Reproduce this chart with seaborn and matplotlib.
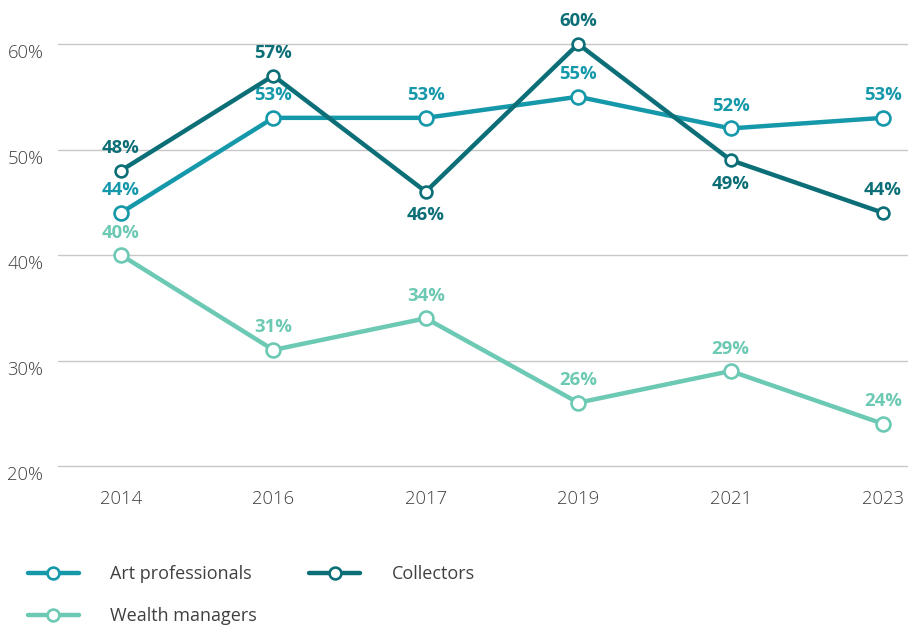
import matplotlib.pyplot as plt
import seaborn as sns
import pandas as pd
import numpy as np

# Data
years = ["2014", "2016", "2017", "2019", "2021", "2023"]
art_professionals = [44, 53, 53, 55, 52, 53]
collectors = [48, 57, 46, 60, 49, 44]
wealth_managers = [40, 31, 34, 26, 29, 24]
y_ticks = [20, 30, 40, 50, 60]

# label below the point for these (series, year index)
below = {("Collectors", 2), ("Collectors", 4)}

colors = {
    "Art professionals": "#1598aa",
    "Collectors": "#0c6f77",
    "Wealth managers": "#6cc9b3",
}
marker_sizes = {"Art professionals": 10, "Collectors": 8.5, "Wealth managers": 10}
text_grey = "#404040"

sns.set_theme(style="white")
plt.rcParams["font.family"] = ["Open Sans", "DejaVu Sans"]

fig = plt.figure(figsize=(9.08, 6.25), dpi=100)
ax = fig.add_axes([58 / 908, 1 - 466 / 625, 850 / 908, (466 - 44) / 625])

x = np.arange(len(years))
series = [
    ("Wealth managers", wealth_managers),
    ("Art professionals", art_professionals),
    ("Collectors", collectors),
]
for name, vals in series:
    df = pd.DataFrame({"x": x, "y": vals})
    sns.lineplot(
        data=df, x="x", y="y", ax=ax,
        color=colors[name], linewidth=3.2,
        marker="o", markersize=marker_sizes[name],
        markerfacecolor="white", markeredgecolor=colors[name],
        markeredgewidth=1.9, clip_on=False, zorder=3,
    )
    for i, v in enumerate(vals):
        dy = -23.5 if (name, i) in below else 22.5
        ax.annotate(f"{v}%", xy=(i, v), xytext=(0, dy * 0.72),
                    textcoords="offset points", ha="center", va="center",
                    fontsize=13.3, fontweight="bold", color=colors[name],
                    annotation_clip=False)

ax.set_xlim(-0.413, 5.164)
ax.set_ylim(20, 60)
ax.set_yticks(y_ticks)
ax.set_yticklabels([])
ax.set_xticks(x)
ax.set_xticklabels(years)
ax.set_xlabel("")
ax.set_ylabel("")

# y labels sit a little below their gridlines
for t in y_ticks:
    ax.annotate(f"{t}%", xy=(0, t), xycoords=ax.get_yaxis_transform(),
                xytext=(-10.5, -6.5), textcoords="offset points",
                ha="right", va="center", fontsize=13.3, color=text_grey,
                fontweight="light", annotation_clip=False)

for s in ax.spines.values():
    s.set_visible(False)
ax.grid(axis="y", color="#c8c8c8", linewidth=1)
ax.grid(axis="x", visible=False)
ax.set_axisbelow(True)
for gl in ax.get_ygridlines():
    gl.set_clip_on(False)

ax.tick_params(axis="y", length=0)
ax.tick_params(axis="x", length=0, pad=17, labelsize=13.3, labelcolor=text_grey)
for lab in ax.get_xticklabels():
    lab.set_fontweight("light")

# Legend
handles = []
for name in ["Art professionals", "Wealth managers", "Collectors"]:
    handles.append(plt.Line2D([0], [0], color=colors[name], linewidth=3.2,
                              marker="o", markersize=8.5,
                              markerfacecolor="white", markeredgecolor=colors[name],
                              markeredgewidth=1.9, label=name,
                              solid_capstyle="round"))
leg = fig.legend(handles=handles, loc="upper left",
                 bbox_to_anchor=(28 / 908, 1 - 565 / 625),
                 ncol=2, frameon=False, fontsize=13,
                 handlelength=2.8, handletextpad=1.75, columnspacing=2.9,
                 labelspacing=1.35, borderpad=0, borderaxespad=0, numpoints=1)
for t in leg.get_texts():
    t.set_color(text_grey)

fig.savefig("out.png", dpi=100)
